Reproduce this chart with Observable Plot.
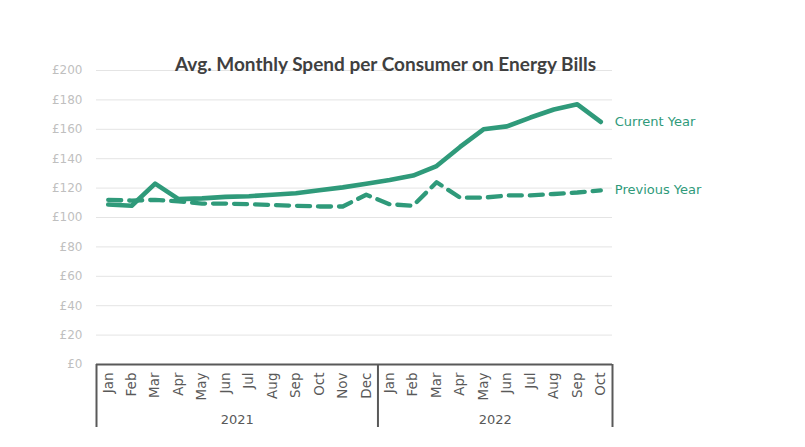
<!DOCTYPE html>
<html><head><meta charset="utf-8">
<script src="https://cdn.jsdelivr.net/npm/d3@7"></script>
<script src="https://cdn.jsdelivr.net/npm/@observablehq/plot@0.6"></script>
<style>body{margin:0;background:#fff;}</style>
</head><body><div id="chart"></div>
<script>
const months = ["Jan","Feb","Mar","Apr","May","Jun","Jul","Aug","Sep","Oct","Nov","Dec",
                "Jan","Feb","Mar","Apr","May","Jun","Jul","Aug","Sep","Oct"];
const years = [2021,2021,2021,2021,2021,2021,2021,2021,2021,2021,2021,2021,
               2022,2022,2022,2022,2022,2022,2022,2022,2022,2022];
const currentYear = [108.8,108,123,112.5,113,114,114.5,115.5,116.5,118.5,120.5,123,
                     125.5,128.5,135,148,160,162,168,173.5,177,165];
const previousYear = [112,111.5,112,111,109.5,109.5,109,108.5,108,107.5,107.5,115.5,
                      109,108,124,113.5,113.5,115,115,116,117,118.5];
const yTicks = [0,20,40,60,80,100,120,140,160,180,200];
const title = "Avg. Monthly Spend per Consumer on Energy Bills";
const seriesLabels = ["Current Year","Previous Year"];

const keys = months.map((m,i)=>`${m} ${years[i]}`);
const data = keys.map((k,i)=>({key:k, month:months[i], year:years[i], current:currentYear[i], previous:previousYear[i]}));
const green = "#2f9a7a";
const W=805,H=447,mL=96,mR=193,mT=70,mB=83;
const step = (W-mL-mR)/keys.length;

const yearGroups = Array.from(d3.group(data.map((d,i)=>({...d,i})), d=>d.year), ([year, arr])=>{
  const first = arr[0].i, lastI = arr[arr.length-1].i;
  const mid = (first + lastI)/2;
  const f = Math.floor(mid);
  return {year, key: keys[f], off: (mid-f)*step, startKey: keys[first]};
});
const last = data[data.length-1];
const axisColor = "#595959";

const plot = Plot.plot({
  width: W, height: H, marginLeft: mL, marginRight: mR, marginTop: mT, marginBottom: mB,
  style: {fontFamily: "DejaVu Sans", background: "#fff", overflow: "visible"},
  x: {type: "point", domain: keys, padding: 0.5, align: 0.5, round: false},
  y: {domain: [0,200]},
  marks: [
    Plot.gridY(yTicks.filter(d=>d>0), {stroke:"#e4e4e4", strokeOpacity:1}),
    Plot.axisY(yTicks, {tickSize:0, tickPadding:14, tickFormat:d=>"£"+d, fill:"#bfbfbf", fontSize:12, label:null}),
    Plot.axisX({tickSize:0, tickRotate:-90, tickPadding:8, tickFormat:k=>k.split(" ")[0], fill:axisColor, fontSize:13.5, label:null}),
    Plot.ruleY([0], {stroke:axisColor, strokeWidth:2}),
    Plot.ruleX(yearGroups.map(g=>g.startKey), {dx:-step/2, insetTop:H-mT-mB, insetBottom:-63, stroke:axisColor, strokeWidth:2}),
    Plot.ruleX([last.key], {dx:step/2, insetTop:H-mT-mB, insetBottom:-63, stroke:axisColor, strokeWidth:2}),
    ...yearGroups.map(g => Plot.text([g], {x:"key", dx:g.off, text:d=>String(d.year), frameAnchor:"bottom", dy:59, fill:axisColor, fontSize:13})),
    Plot.line(data, {x:"key", y:"previous", stroke:green, strokeWidth:4.3, strokeDasharray:"13,8", strokeLinejoin:"round"}),
    Plot.line(data, {x:"key", y:"current", stroke:green, strokeWidth:4.6, strokeLinejoin:"round", strokeLinecap:"round"}),
    Plot.text([last], {x:"key", y:"current", text:()=>seriesLabels[0], dx:14, textAnchor:"start", fill:green, fontSize:13}),
    Plot.text([last], {x:"key", y:"previous", text:()=>seriesLabels[1], dx:14, textAnchor:"start", fill:green, fontSize:13}),
    Plot.text([title], {frameAnchor:"top-left", dx:385-mL, dy:57-mT, textAnchor:"middle", fontWeight:"bold", fontSize:19, fontFamily:"Lato", fill:"#404040"})
  ]
});
document.getElementById("chart").appendChild(plot);
</script></body></html>
